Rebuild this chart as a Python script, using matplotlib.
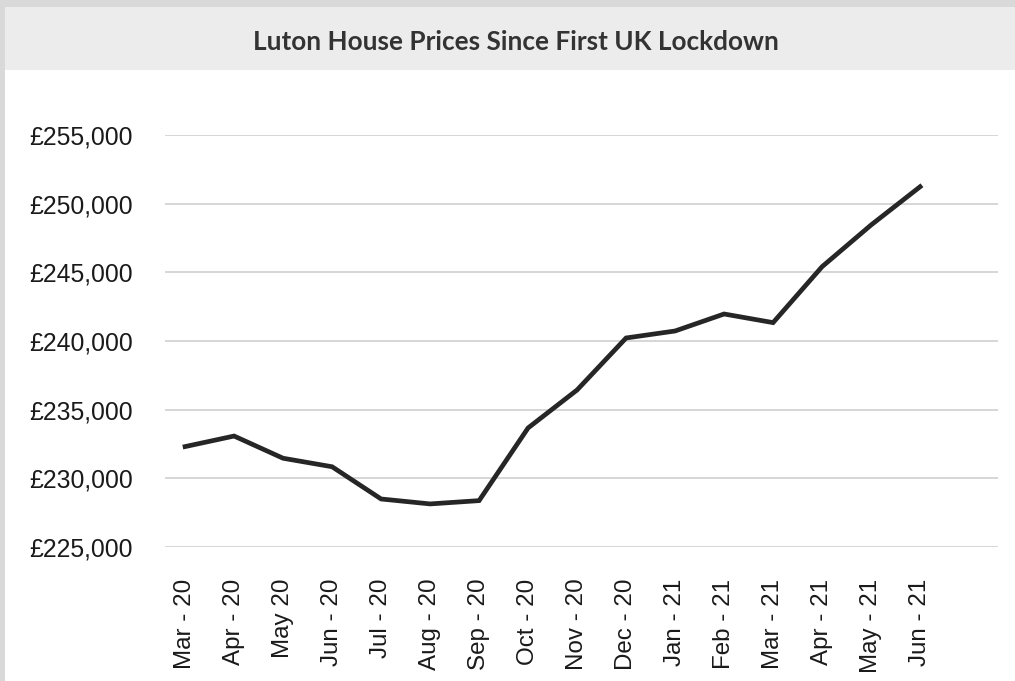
# Luton House Prices Since First UK Lockdown
# Line Chart

import matplotlib.pyplot as plt
from matplotlib.patches import Rectangle
from matplotlib.ticker import FuncFormatter

# Data
months = ["Mar - 20", "Apr - 20", "May 20", "Jun - 20", "Jul - 20", "Aug - 20",
          "Sep - 20", "Oct - 20", "Nov - 20", "Dec - 20", "Jan - 21", "Feb - 21",
          "Mar - 21", "Apr - 21", "May - 21", "Jun - 21"]
prices = [232300, 233070, 231450, 230830, 228480, 228120, 228360, 233660,
          236430, 240220, 240730, 241970, 241340, 245420, 248460, 251250]
y_ticks = [225000, 230000, 235000, 240000, 245000, 250000, 255000]

W, H = 1015, 681
fig = plt.figure(figsize=(W / 100, H / 100), dpi=100)
fig.patch.set_facecolor("#d9d9d9")

# White card and title bar
fig.patches.append(Rectangle((5 / W, 0), 1 - 5 / W, 1 - 70 / H, transform=fig.transFigure,
                             facecolor="white", edgecolor="none", zorder=-2))
fig.patches.append(Rectangle((5 / W, 1 - 70 / H), 1 - 5 / W, 63 / H, transform=fig.transFigure,
                             facecolor="#ececec", edgecolor="none", zorder=-2))
fig.text(516 / W, 1 - 50 / H, "Luton House Prices Since First UK Lockdown",
         ha="center", va="baseline", fontsize=18.8, fontweight="bold",
         family="Lato", color="#333333")

ax = fig.add_axes([165 / W, 1 - 546.7 / H, (998 - 165) / W, (546.7 - 135.3) / H])
ax.set_facecolor("white")

x = list(range(len(months)))
ax.plot(x, prices, color="#262626", linewidth=3.4, solid_joinstyle="miter", zorder=3)

ax.set_xlim(-0.41, len(months) + 0.59)
ax.set_ylim(225000, 255000)
ax.set_yticks(y_ticks)
ax.yaxis.set_major_formatter(FuncFormatter(lambda v, p: "£{:,.0f}".format(v)))
ax.set_xticks(x)
ax.set_xticklabels(months, rotation=90, va="top", ha="center")

ax.grid(axis="y", color="#d0d0d0", linewidth=1.2)
ax.set_axisbelow(True)
for s in ax.spines.values():
    s.set_visible(False)

ax.tick_params(axis="both", length=0, labelcolor="#1a1a1a")
ax.tick_params(axis="y", pad=23, labelsize=17.8)
ax.tick_params(axis="x", pad=23, labelsize=17.4)
for lab in ax.get_xticklabels() + ax.get_yticklabels():
    lab.set_family("Liberation Sans")

plt.savefig("out.png", dpi=100, facecolor=fig.get_facecolor())
